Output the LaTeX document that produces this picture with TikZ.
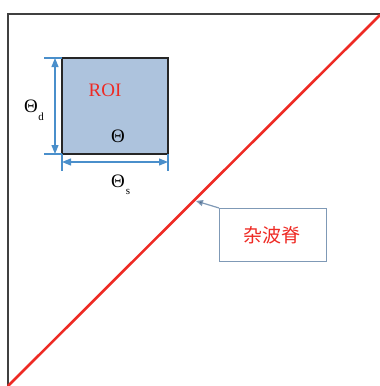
\documentclass[tikz,border=0pt]{standalone}
\usepackage{fontspec}
\setmainfont{Liberation Serif}
\newfontfamily\cjk{Noto Sans CJK SC}
\usetikzlibrary{arrows.meta}
\definecolor{roifill}{HTML}{ADC3DD}
\definecolor{dimblue}{HTML}{4A8FCB}
\definecolor{callgray}{HTML}{7F99B6}
\definecolor{tipblue}{HTML}{4C6A8C}
\definecolor{ridgered}{HTML}{EE2A24}
\tikzset{
  dimline/.style={draw=dimblue, line width=1.2pt},
  dimarrow/.style={dimline, {Triangle[length=9pt,width=7pt]}-{Triangle[length=9pt,width=7pt]}},
  lbl/.style={font=\fontsize{19}{19}\selectfont, inner sep=0pt},
  sub/.style={font=\fontsize{11}{11}\selectfont, inner sep=0pt},
}
\begin{document}
\begin{tikzpicture}[x=1pt,y=-1pt]
\useasboundingbox (0,0) rectangle (380,386);
% frame
\draw[line width=1.6pt, draw=black!75] (8,387) -- (8,14) -- (381,14);
% ridge line
\coordinate (r0) at (8,386);
\coordinate (r1) at (380,15);
\draw[ridgered, line width=2.6pt] (r0) -- (r1);
% ROI box
\coordinate (bnw) at (62,58);
\coordinate (bsw) at (62,154);
\coordinate (bse) at (168,154);
\node[draw=black!85, line width=1.6pt, fill=roifill, minimum width=106pt, minimum height=96pt, inner sep=0pt, outer sep=0pt, anchor=north west] (roi) at (bnw) {};
\node[lbl, text=ridgered] (roitxt) at (105,90) {ROI};
\node[lbl] (theta) at (118,136) {Θ};
% dimension: vertical
\draw[dimline] (44,58) -- (bnw);
\draw[dimline] (44,154) -- (bsw);
\draw[dimarrow] (55,58) -- (55,154);
\node[lbl] (thd) at (31,106) {Θ};
\node[sub] (thdsub) at (41,117) {d};
% dimension: horizontal
\draw[dimline] (bsw) -- (62,171);
\draw[dimline] (bse) -- (168,171);
\draw[dimarrow] (62,162) -- (168,162);
\node[lbl] (ths) at (118,181) {Θ};
\node[sub] (thssub) at (128,192) {s};
% callout
\node[draw=callgray, line width=1.2pt, minimum width=107pt, minimum height=53pt, inner sep=0pt, anchor=north west] (call) at (219,208) {};
\node[inner sep=0pt, text=ridgered, font=\cjk\fontsize{19}{19}\selectfont] (calltxt) at (272,235) {杂波脊};
\coordinate (tip) at (196,201);
\draw[callgray, line width=1.2pt, -{Triangle[length=7pt,width=6pt,fill=tipblue]}] (call.north west) -- (tip);
\end{tikzpicture}
\end{document}
